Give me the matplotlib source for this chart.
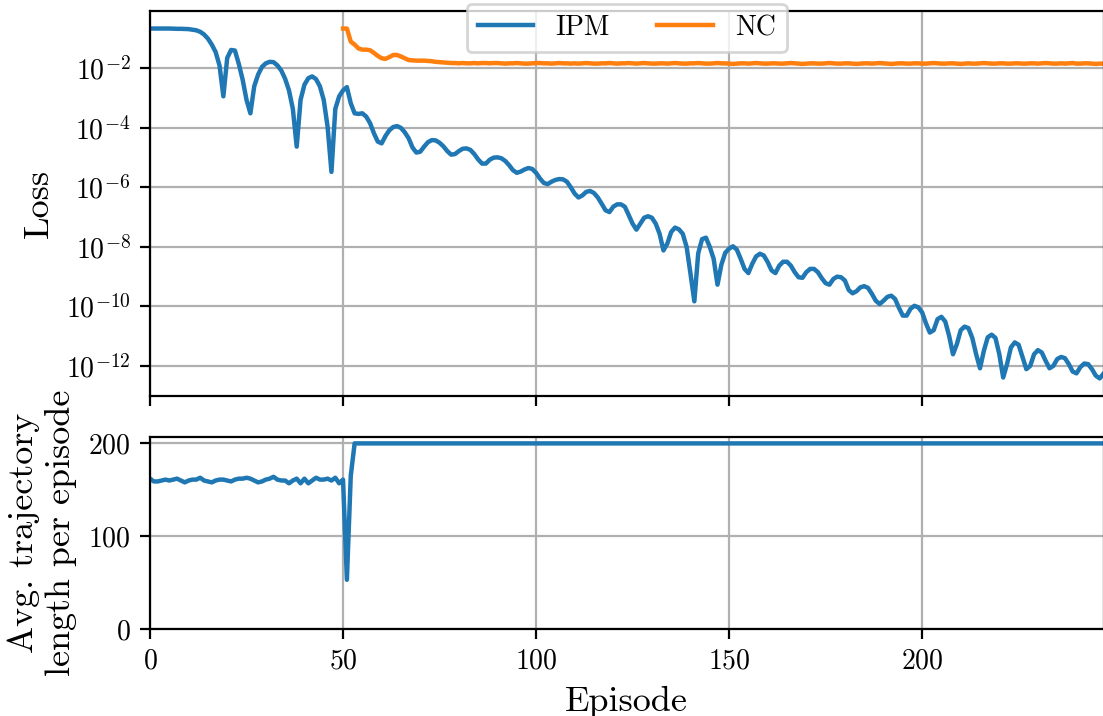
import numpy as np
import matplotlib.pyplot as plt

plt.rcParams['font.family'] = 'serif'
plt.rcParams['font.serif'] = ['cmr10']
plt.rcParams['mathtext.fontset'] = 'cm'
plt.rcParams['axes.unicode_minus'] = False
plt.rcParams['axes.formatter.use_mathtext'] = True

episodes = np.arange(248)

# log10 of the IPM loss, episodes 0..247
ipm_loss_log10 = [
    -0.66, -0.66, -0.66, -0.66, -0.66, -0.66, -0.665, -0.67, -0.67, -0.675,
    -0.68, -0.70, -0.72, -0.77, -0.86, -1.00, -1.20, -1.45, -1.90, -2.94,
    -1.65, -1.38, -1.40, -1.85, -2.38, -3.06, -3.51, -2.60, -2.21, -1.95,
    -1.83, -1.78, -1.79, -1.90, -2.07, -2.35, -2.74, -3.36, -4.63, -3.06,
    -2.55, -2.33, -2.27, -2.36, -2.60, -3.06, -3.96, -5.48, -3.36, -2.94,
    -2.74, -2.63, -3.17, -3.51, -3.53, -3.51, -3.62, -3.84, -4.18, -4.46,
    -4.52, -4.27, -4.08, -3.97, -3.94, -4.00, -4.15, -4.35, -4.66, -4.83,
    -4.80, -4.63, -4.48, -4.41, -4.42, -4.50, -4.62, -4.78, -4.90, -4.88,
    -4.78, -4.70, -4.69, -4.74, -4.88, -5.06, -5.20, -5.20, -5.07, -5.00,
    -4.99, -5.02, -5.11, -5.25, -5.42, -5.51, -5.47, -5.40, -5.35, -5.38,
    -5.51, -5.70, -5.85, -5.89, -5.81, -5.75, -5.72, -5.73, -5.81, -6.00,
    -6.21, -6.34, -6.27, -6.15, -6.12, -6.19, -6.34, -6.55, -6.77, -6.83,
    -6.65, -6.57, -6.57, -6.65, -6.93, -7.22, -7.42, -7.22, -7.02, -6.97,
    -7.02, -7.22, -7.56, -8.12, -7.89, -7.50, -7.35, -7.41, -7.56, -8.00,
    -8.90, -9.83, -8.22, -7.74, -7.69, -8.00, -8.40, -9.27, -8.60, -8.20,
    -8.06, -7.98, -8.09, -8.40, -8.74, -8.88, -8.57, -8.32, -8.23, -8.29,
    -8.51, -8.79, -8.88, -8.63, -8.50, -8.50, -8.63, -8.85, -9.02, -9.04,
    -8.85, -8.74, -8.74, -8.85, -9.05, -9.22, -9.27, -9.08, -9.00, -9.02,
    -9.13, -9.45, -9.56, -9.49, -9.36, -9.32, -9.38, -9.58, -9.81, -9.92,
    -9.81, -9.68, -9.64, -9.75, -10.05, -10.31, -10.31, -10.08, -9.98, -10.03,
    -10.20, -10.57, -10.88, -10.80, -10.43, -10.35, -10.51, -10.99, -11.61, -11.27,
    -10.80, -10.68, -10.73, -11.06, -11.61, -12.08, -11.49, -11.04, -10.95, -11.06,
    -11.61, -12.39, -11.94, -11.38, -11.21, -11.29, -11.70, -12.11, -12.00, -11.61,
    -11.47, -11.55, -11.83, -12.08, -12.00, -11.77, -11.70, -11.74, -11.94, -12.19,
    -12.25, -12.04, -11.92, -11.94, -12.11, -12.33, -12.42, -12.26,
]

# log10 of the NC loss, episodes 50..247
nc_episodes = np.arange(50, 248)
nc_loss_log10 = [
    -0.66, -0.66, -1.10, -1.20, -1.33, -1.37, -1.37, -1.39, -1.48, -1.58,
    -1.66, -1.68, -1.62, -1.55, -1.55, -1.60, -1.66, -1.72, -1.73, -1.74,
    -1.74, -1.74, -1.75, -1.76, -1.78, -1.79, -1.80, -1.81, -1.82, -1.82,
    -1.83, -1.82, -1.83, -1.83, -1.82, -1.83, -1.82, -1.82, -1.83, -1.82,
    -1.82, -1.83, -1.84, -1.83, -1.83, -1.82, -1.83, -1.84, -1.84, -1.83,
    -1.82, -1.82, -1.83, -1.83, -1.84, -1.83, -1.82, -1.83, -1.83, -1.84,
    -1.83, -1.84, -1.83, -1.82, -1.83, -1.84, -1.84, -1.83, -1.83, -1.82,
    -1.83, -1.84, -1.83, -1.83, -1.82, -1.83, -1.84, -1.83, -1.82, -1.83,
    -1.84, -1.84, -1.83, -1.83, -1.84, -1.83, -1.82, -1.83, -1.84, -1.84,
    -1.83, -1.83, -1.82, -1.83, -1.84, -1.84, -1.83, -1.82, -1.83, -1.83,
    -1.84, -1.85, -1.84, -1.83, -1.83, -1.84, -1.83, -1.82, -1.83, -1.84,
    -1.84, -1.83, -1.83, -1.84, -1.84, -1.83, -1.82, -1.83, -1.84, -1.85,
    -1.84, -1.83, -1.83, -1.84, -1.84, -1.83, -1.82, -1.83, -1.84, -1.84,
    -1.83, -1.83, -1.84, -1.85, -1.84, -1.83, -1.83, -1.84, -1.83, -1.82,
    -1.83, -1.84, -1.85, -1.84, -1.83, -1.83, -1.84, -1.84, -1.83, -1.83,
    -1.84, -1.84, -1.83, -1.82, -1.83, -1.84, -1.84, -1.83, -1.83, -1.84,
    -1.85, -1.84, -1.83, -1.84, -1.84, -1.83, -1.82, -1.83, -1.84, -1.84,
    -1.83, -1.83, -1.84, -1.84, -1.83, -1.83, -1.84, -1.84, -1.83, -1.83,
    -1.84, -1.83, -1.82, -1.83, -1.84, -1.84, -1.83, -1.84, -1.83, -1.82,
    -1.84, -1.84, -1.83, -1.83, -1.84, -1.85, -1.84, -1.84,
]

# average trajectory length per episode (IPM), episodes 0..247
traj_len = [
    162, 159, 159, 160, 161, 160, 161, 162, 160, 158,
    160, 161, 161, 163, 160, 159, 158, 160, 161, 161,
    160, 159, 161, 162, 162, 163, 162, 160, 158, 159,
    161, 162, 164, 161, 160, 160, 157, 160, 162, 157,
    162, 157, 160, 163, 161, 161, 162, 160, 163, 157,
    161, 53, 165, 200, 200, 200, 200, 200, 200, 200,
    200, 200, 200, 200, 200, 200, 200, 200, 200, 200,
    200, 200, 200, 200, 200, 200, 200, 200, 200, 200,
    200, 200, 200, 200, 200, 200, 200, 200, 200, 200,
    200, 200, 200, 200, 200, 200, 200, 200, 200, 200,
    200, 200, 200, 200, 200, 200, 200, 200, 200, 200,
    200, 200, 200, 200, 200, 200, 200, 200, 200, 200,
    200, 200, 200, 200, 200, 200, 200, 200, 200, 200,
    200, 200, 200, 200, 200, 200, 200, 200, 200, 200,
    200, 200, 200, 200, 200, 200, 200, 200, 200, 200,
    200, 200, 200, 200, 200, 200, 200, 200, 200, 200,
    200, 200, 200, 200, 200, 200, 200, 200, 200, 200,
    200, 200, 200, 200, 200, 200, 200, 200, 200, 200,
    200, 200, 200, 200, 200, 200, 200, 200, 200, 200,
    200, 200, 200, 200, 200, 200, 200, 200, 200, 200,
    200, 200, 200, 200, 200, 200, 200, 200, 200, 200,
    200, 200, 200, 200, 200, 200, 200, 200, 200, 200,
    200, 200, 200, 200, 200, 200, 200, 200, 200, 200,
    200, 200, 200, 200, 200, 200, 200, 200, 200, 200,
    200, 200, 200, 200, 200, 200, 200, 200,
]

ipm_loss = 10.0 ** np.array(ipm_loss_log10)
nc_loss = 10.0 ** np.array(nc_loss_log10)

fig, (ax1, ax2) = plt.subplots(2, 1, sharex=True, figsize=(5.515, 3.58), dpi=200,
                               gridspec_kw={'height_ratios': [2, 1]})
fig.subplots_adjust(left=0.136, right=1.0005, top=0.9846, bottom=0.1215, hspace=0.141)

ax1.plot(episodes, ipm_loss, color='#1f77b4', lw=1.6, label='IPM')
ax1.plot(nc_episodes, nc_loss, color='#ff7f0e', lw=1.6, label='NC')
ax1.set_yscale('log')
ax1.set_yticks([1e-2, 1e-4, 1e-6, 1e-8, 1e-10, 1e-12])
ax1.yaxis.set_minor_locator(plt.NullLocator())
ax1.set_ylabel('Loss', fontsize=13)
ax1.grid(True)
ax1.tick_params(labelsize=10)
ax1.legend(loc='upper center', bbox_to_anchor=(0.5, 1.055), ncol=2, fontsize=10,
           columnspacing=1.7)

ax2.plot(episodes, traj_len, color='#1f77b4', lw=1.6)
ax2.set_ylim(bottom=0)
ax2.set_yticks([0, 100, 200])
ax2.set_ylabel('Avg. trajectory\nlength per episode', fontsize=13)
ax2.set_xlabel('Episode', fontsize=13)
ax2.grid(True)
ax2.tick_params(labelsize=10)
ax2.set_xlim(0, 247)
ax2.set_xticks([0, 50, 100, 150, 200])

fig.savefig('out.png', dpi=200)
